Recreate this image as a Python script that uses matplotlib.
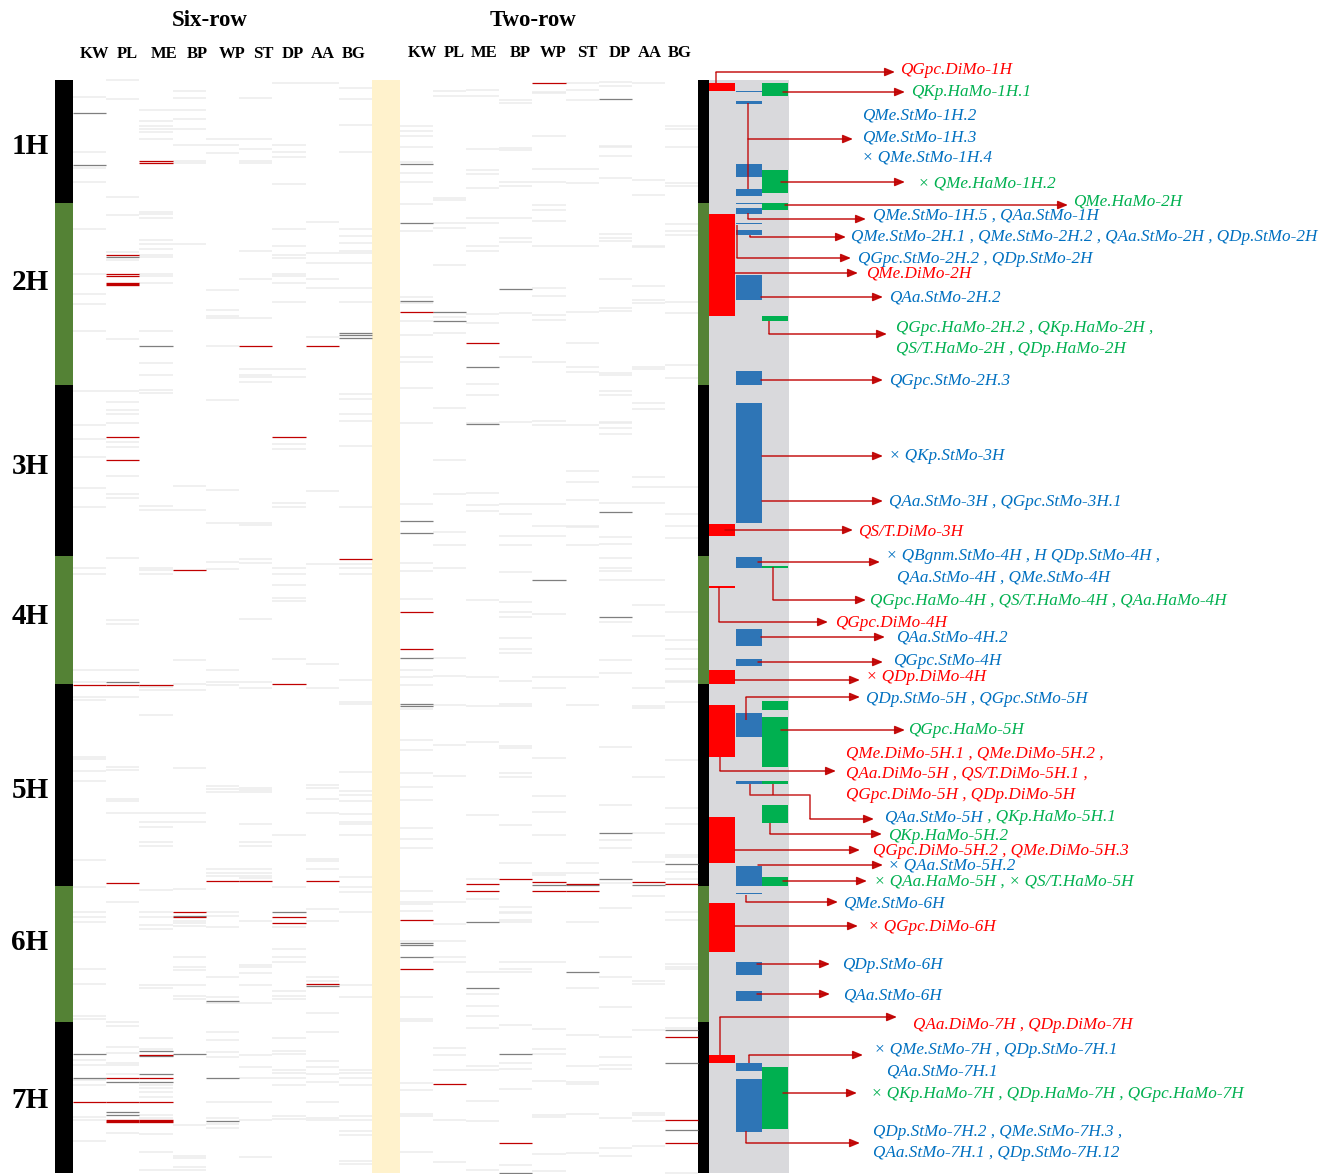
import matplotlib
matplotlib.use("Agg")
import matplotlib.pyplot as plt
from matplotlib.patches import Rectangle

# ---------------- data ----------------
traits = ["KW", "PL", "ME", "BP", "WP", "ST", "DP", "AA", "BG"]
chromosomes = ["1H", "2H", "3H", "4H", "5H", "6H", "7H"]
chrom_start = [0, 123, 305, 476, 604, 806, 942]
chrom_end = [123, 305, 476, 604, 806, 942, 1093]
chrom_color = ["#000000", "#548235", "#000000", "#548235", "#000000", "#548235", "#000000"]

# Six-row association marks (genome position)
six_red = {
    "KW": [605, 1022], "PL": [175, 194, 196, 357, 380, 605, 803, 998, 1022],
    "ME": [81, 83, 605, 975, 998, 1022], "BP": [490, 832, 837], "WP": [801],
    "ST": [266, 801], "DP": [357, 604, 837, 843], "AA": [266, 801, 904], "BG": [479],
}
six_red_thick = {"PL": [203.5, 1040.7], "ME": [1040.7]}
six_grey = {
    "KW": [33, 85, 974, 998], "PL": [177, 602, 1002, 1032, 1035],
    "ME": [266, 971, 976, 994, 1002], "BP": [835.7, 974], "WP": [921, 998, 1040.7],
    "ST": [], "DP": [832], "AA": [906], "BG": [253, 255, 258],
}
six_faint = {
    "KW": [17, 72, 88, 102, 149, 194, 214, 224, 251, 311, 345, 359, 377, 408, 427, 488, 494, 590, 602,
           617, 620, 677, 679, 691, 701, 780, 807, 832, 837, 842, 889, 904, 936, 939, 980, 985, 1000,
           1005, 1037, 1040, 1061],
    "PL": [0, 19, 117, 135, 172, 180, 259, 311, 322, 330, 334, 343, 362, 367, 396, 414, 418, 478, 540,
           544, 590, 617, 687, 690, 719, 721, 733, 822, 942, 946, 967, 973, 983, 985, 994, 1053],
    "ME": [30, 41, 46, 49, 52, 59, 132, 134, 138, 160, 164, 169, 175, 177, 194, 196, 203, 251, 283, 295,
           310, 313, 426, 430, 488, 490, 494, 607, 610, 635, 733, 742, 747, 762, 766, 810, 832, 837, 845,
           849, 905, 908, 958, 969, 1005, 1008, 1012, 1017, 1035, 1038, 1054, 1072, 1090],
    "BP": [11, 18, 30, 39, 49, 65, 81, 83, 164, 406, 430, 580, 604, 610, 688, 733, 742, 809, 841, 843,
           846, 877, 887, 890, 905, 916, 919, 1045, 1076, 1078, 1087, 1090],
    "WP": [59, 65, 73, 210, 230, 236, 238, 266, 320, 410, 443, 482, 489, 590, 602, 605, 706, 709, 712,
           789, 793, 796, 832, 836, 847, 897, 917, 923, 952, 960, 972, 977, 1022, 1038, 1044, 1048],
    "ST": [18, 59, 69, 81, 83, 171, 199, 238, 289, 295, 297, 302, 443, 445, 479, 483, 539, 602, 608, 708,
           710, 712, 744, 762, 766, 789, 793, 796, 798, 841, 885, 887, 893, 905, 923, 975, 987, 998, 1022,
           1040, 1077],
    "DP": [3, 65, 72, 77, 104, 149, 166, 175, 178, 194, 196, 203, 222, 289, 297, 364, 369, 423, 427, 488,
           494, 505, 518, 521, 579, 755, 807, 847, 869, 877, 882, 911, 916, 919, 958, 971, 974, 990, 993,
           998, 1005, 1036, 1039],
    "AA": [3, 142, 173, 183, 199, 208, 257, 411, 484, 584, 608, 705, 708, 719, 733, 779, 781, 789, 829,
           841, 897, 901, 933, 952, 981, 987, 994, 1002, 1022, 1038, 1040],
    "BG": [8, 19, 45, 72, 149, 156, 163, 171, 173, 183, 208, 222, 314, 319, 334, 341, 366, 427, 484, 488,
           494, 600, 622, 624, 692, 711, 715, 721, 734, 742, 744, 755, 797, 807, 812, 832, 905, 917, 990,
           993, 998, 1005, 1036, 1040, 1051, 1055, 1081, 1084],
}

# Two-row association marks
two_red = {
    "KW": [232, 532, 569, 840, 889], "PL": [1004], "ME": [263, 804, 811], "BP": [799, 1063],
    "WP": [3, 802, 811], "ST": [804, 811], "DP": [], "AA": [802], "BG": [804, 957, 1040, 1063],
}
two_grey = {
    "KW": [84, 143, 221, 441, 453, 578, 624, 626, 863, 865, 877], "PL": [232, 241],
    "ME": [287, 344, 842, 908], "BP": [209, 974, 1093], "WP": [500, 805], "ST": [805, 892],
    "DP": [19, 432, 537, 753, 799], "AA": [805], "BG": [784, 950, 983, 1050],
}
two_faint = {
    "KW": [46, 51, 56, 67, 82, 93, 102, 124, 151, 217, 223, 241, 255, 277, 282, 308, 343, 424, 483, 491,
           519, 590, 597, 605, 629, 660, 670, 693, 707, 720, 748, 759, 768, 811, 822, 824, 831, 861, 917,
           939, 941, 1003, 1010, 1034, 1036, 1072],
    "PL": [11, 16, 118, 120, 143, 148, 185, 237, 253, 328, 380, 414, 452, 465, 488, 578, 596, 625, 665,
           696, 822, 844, 861, 877, 882, 968, 975, 990, 1040, 1082],
    "ME": [10, 16, 69, 90, 94, 108, 138, 143, 166, 171, 234, 243, 304, 315, 343, 413, 425, 431, 520, 597,
           626, 662, 735, 799, 819, 892, 914, 926, 936, 948, 986, 990, 1021, 1041, 1090],
    "BP": [20, 23, 68, 70, 102, 106, 138, 158, 162, 233, 277, 342, 424, 434, 456, 465, 492, 522, 532, 537,
           558, 569, 573, 601, 624, 626, 666, 668, 693, 697, 745, 783, 827, 832, 833, 840, 842, 882, 889,
           892, 945, 983, 989, 1009, 1085],
    "WP": [12, 13, 56, 89, 102, 125, 130, 141, 166, 208, 216, 235, 240, 282, 341, 345, 424, 446, 456, 534,
           597, 608, 678, 716, 732, 755, 793, 795, 882, 949, 969, 974, 1001, 1035, 1037, 1074, 1091],
    "ST": [3, 10, 20, 89, 103, 166, 232, 263, 287, 292, 345, 391, 402, 420, 446, 447, 465, 597, 625, 783,
           793, 842, 908, 955, 986, 1002, 1004, 1034, 1073],
    "DP": [2, 6, 66, 67, 76, 98, 154, 158, 161, 199, 228, 231, 293, 295, 311, 315, 342, 343, 348, 354, 423,
           457, 464, 478, 488, 491, 500, 542, 580, 593, 667, 725, 760, 768, 803, 828, 877, 897, 927, 957,
           977, 985, 989, 1038, 1068, 1076],
    "AA": [3, 100, 115, 166, 167, 206, 220, 223, 287, 289, 323, 329, 397, 407, 423, 500, 525, 556, 608,
           626, 628, 697, 753, 782, 816, 901, 904, 950, 1033, 1035, 1041, 1066],
    "BG": [46, 49, 67, 103, 106, 144, 151, 155, 222, 233, 285, 298, 407, 434, 446, 458, 532, 560, 569,
           579, 589, 601, 602, 622, 680, 728, 744, 775, 777, 792, 799, 804, 832, 840, 884, 887, 889, 938,
           948, 1093],
}

# QTL intervals (start, end) by disease type
qtl_dimo = [(3, 10.7), (134, 236), (444, 455.7), (506, 508.3), (590, 604), (625, 676.7), (737, 782.7),
            (823, 872.3), (975, 982.7)]
qtl_stmo = [(11, 11.8), (21, 23.7), (84, 96.7), (109, 116), (122.6, 123.4), (128, 133.7), (143.2, 144),
            (150, 155.3), (195, 220), (291, 305), (323, 443.3), (477.3, 488.3), (549, 566.3), (579, 586.3),
            (633, 656.7), (701, 703.7), (785.7, 806), (813, 814), (882.3, 895), (911, 921), (983.3, 991),
            (999, 1051.7)]
qtl_hamo = [(3, 15.7), (90, 113), (122.7, 130.3), (236, 241.3), (485.7, 487.7), (620.7, 630), (637, 687),
            (701, 703.7), (725, 743), (797, 806), (986.7, 1048.7)]

# QTL labels: each entry = lines, each line = list of (text, colour key)
qtl_labels = [
    [[("QGpc.DiMo-1H", "r")]],
    [[("QKp.HaMo-1H.1", "g")]],
    [[("QMe.StMo-1H.2", "b")], [("QMe.StMo-1H.3", "b")], [("× QMe.StMo-1H.4", "b")]],
    [[("× QMe.HaMo-1H.2", "g")]],
    [[("QMe.HaMo-2H", "g")]],
    [[("QMe.StMo-1H.5 , QAa.StMo-1H", "b")]],
    [[("QMe.StMo-2H.1 , QMe.StMo-2H.2 , QAa.StMo-2H , QDp.StMo-2H", "b")]],
    [[("QGpc.StMo-2H.2 , QDp.StMo-2H", "b")]],
    [[("QMe.DiMo-2H", "r")]],
    [[("QAa.StMo-2H.2", "b")]],
    [[("QGpc.HaMo-2H.2 , QKp.HaMo-2H ,", "g")], [("QS/T.HaMo-2H , QDp.HaMo-2H", "g")]],
    [[("QGpc.StMo-2H.3", "b")]],
    [[("× QKp.StMo-3H", "b")]],
    [[("QAa.StMo-3H , QGpc.StMo-3H.1", "b")]],
    [[("QS/T.DiMo-3H", "r")]],
    [[("× QBgnm.StMo-4H , H QDp.StMo-4H ,", "b")], [("QAa.StMo-4H , QMe.StMo-4H", "b")]],
    [[("QGpc.HaMo-4H , QS/T.HaMo-4H , QAa.HaMo-4H", "g")]],
    [[("QGpc.DiMo-4H", "r")]],
    [[("QAa.StMo-4H.2", "b")]],
    [[("QGpc.StMo-4H", "b")]],
    [[("× QDp.DiMo-4H", "r")]],
    [[("QDp.StMo-5H , QGpc.StMo-5H", "b")]],
    [[("QGpc.HaMo-5H", "g")]],
    [[("QMe.DiMo-5H.1 , QMe.DiMo-5H.2 ,", "r")], [("QAa.DiMo-5H , QS/T.DiMo-5H.1 ,", "r")],
     [("QGpc.DiMo-5H , QDp.DiMo-5H", "r")]],
    [[("QAa.StMo-5H", "b"), (" , QKp.HaMo-5H.1", "g")]],
    [[("QKp.HaMo-5H.2", "g")]],
    [[("QGpc.DiMo-5H.2 , QMe.DiMo-5H.3", "r")]],
    [[("× QAa.StMo-5H.2", "b")]],
    [[("× QAa.HaMo-5H , × QS/T.HaMo-5H", "g")]],
    [[("QMe.StMo-6H", "b")]],
    [[("× QGpc.DiMo-6H", "r")]],
    [[("QDp.StMo-6H", "b")]],
    [[("QAa.StMo-6H", "b")]],
    [[("QAa.DiMo-7H , QDp.DiMo-7H", "r")]],
    [[("× QMe.StMo-7H , QDp.StMo-7H.1", "b")], [("QAa.StMo-7H.1", "b")]],
    [[("× QKp.HaMo-7H , QDp.HaMo-7H , QGpc.HaMo-7H", "g")]],
    [[("QDp.StMo-7H.2 , QMe.StMo-7H.3 ,", "b")], [("QAa.StMo-7H.1 , QDp.StMo-7H.12", "b")]],
]

# ---------------- layout (pixel-like x units; y = genome position) ----------------
chrom_label_y = [67, 203, 386, 537, 711, 863, 1021]
label_layout = [
    dict(path=[(716, 3), (716, -8), (895, -8)], text=[(900, -10)]),
    dict(path=[(783, 12), (905, 12)], text=[(911, 12)]),
    dict(path=[(748, 59), (853, 59)], text=[(862, 35), (862, 57), (862, 78)], extra=[[(748, 23), (748, 109)]]),
    dict(path=[(781, 102), (905, 102)], text=[(918, 103)]),
    dict(path=[(785, 125), (1068, 125)], text=[(1073, 122)]),
    dict(path=[(748, 133), (748, 139), (866, 139)], text=[(873, 136)]),
    dict(path=[(750, 155), (750, 157), (846, 157)], text=[(851, 157)]),
    dict(path=[(737, 145), (737, 178), (851, 178)], text=[(858, 179)]),
    dict(path=[(735, 193), (858, 193)], text=[(866, 194)]),
    dict(path=[(761, 217), (883, 217)], text=[(889, 217)]),
    dict(path=[(769, 241), (769, 254), (887, 254)], text=[(896, 248), (896, 269)]),
    dict(path=[(761, 300), (883, 300)], text=[(889, 301)]),
    dict(path=[(762, 376), (883, 376)], text=[(889, 376)]),
    dict(path=[(762, 421), (883, 421)], text=[(889, 422)]),
    dict(path=[(725, 450), (853, 450)], text=[(858, 452)]),
    dict(path=[(758, 482), (880, 482)], text=[(886, 476), (897, 497)]),
    dict(path=[(773, 487), (773, 520), (866, 520)], text=[(870, 521)]),
    dict(path=[(719, 507), (719, 542), (828, 542)], text=[(835, 543)]),
    dict(path=[(761, 557), (885, 557)], text=[(896, 558)]),
    dict(path=[(758, 582), (883, 582)], text=[(893, 581)]),
    dict(path=[(735, 600), (860, 600)], text=[(866, 597)]),
    dict(path=[(746, 640), (746, 617), (860, 617)], text=[(866, 619)]),
    dict(path=[(781, 650), (905, 650)], text=[(908, 650)]),
    dict(path=[(720, 677), (720, 691), (836, 691)], text=[(846, 673), (846, 694), (846, 715)]),
    dict(path=[(750, 704), (750, 715), (810, 715), (810, 739), (874, 739)], text=[(884, 737)],
         extra=[[(773, 704), (773, 715)]]),
    dict(path=[(770, 743), (770, 754), (882, 754)], text=[(888, 756)]),
    dict(path=[(735, 770), (860, 770)], text=[(873, 771)]),
    dict(path=[(758, 785), (883, 785)], text=[(888, 786)]),
    dict(path=[(783, 801), (867, 801)], text=[(874, 801)]),
    dict(path=[(746, 815), (746, 822), (838, 822)], text=[(843, 824)]),
    dict(path=[(735, 846), (858, 846)], text=[(868, 847)]),
    dict(path=[(757, 884), (830, 884)], text=[(842, 885)]),
    dict(path=[(757, 914), (830, 914)], text=[(843, 915)]),
    dict(path=[(720, 975), (720, 937), (897, 937)], text=[(913, 945)]),
    dict(path=[(749, 983), (749, 975), (863, 975)], text=[(874, 970), (886, 991)]),
    dict(path=[(783, 1013), (857, 1013)], text=[(871, 1014)]),
    dict(path=[(746, 1051), (746, 1063), (860, 1063)], text=[(873, 1052), (873, 1073)]),
]

W, H = 1325, 1174
TOP = 80
SIX_X0, TWO_X0 = 73, 400
SIX_W, TWO_W = (372 - 73) / 9, (698 - 400) / 9
TXT = {"r": "#ff0000", "b": "#0070c0", "g": "#00b050"}
ARROW = "#c00000"
SERIF = "Liberation Serif"
LBL_FS = 12.3

fig = plt.figure(figsize=(W / 100, H / 100), dpi=100)
ax = fig.add_axes([0, 0, 1, 1])
ax.set_xlim(0, W)
ax.set_ylim(H - TOP, -TOP)
ax.axis("off")

total = chrom_end[-1]

# chromosome bars (left & right) and labels
for name, s, e, c, ly in zip(chromosomes, chrom_start, chrom_end, chrom_color, chrom_label_y):
    ax.bar(64, e - s, bottom=s, width=18, color=c, linewidth=0)
    ax.bar(703.5, e - s, bottom=s, width=11, color=c, linewidth=0)
    ax.text(30, ly, name, ha="center", va="center", fontsize=21,
            fontweight="bold", family=SERIF)

# separator and QTL panel backgrounds
ax.add_patch(Rectangle((372, 0), 28, total, color="#fff2cc", lw=0))
ax.add_patch(Rectangle((709, 0), 80, total, color="#d9d9dc", lw=0))


def draw_marks(x0, w, marks, color, lw):
    for i, t in enumerate(traits):
        ys = marks.get(t, [])
        if ys:
            ax.hlines(ys, x0 + i * w, x0 + (i + 1) * w, colors=color, linewidth=lw)


for x0, w, faint, grey, red in [(SIX_X0, SIX_W, six_faint, six_grey, six_red),
                                (TWO_X0, TWO_W, two_faint, two_grey, two_red)]:
    draw_marks(x0, w, faint, "#ececec", 1.1)
    draw_marks(x0, w, grey, "#7f7f7f", 0.9)
    draw_marks(x0, w, red, "#c00000", 0.9)
draw_marks(SIX_X0, SIX_W, six_red_thick, "#c00000", 2.4)

# QTL boxes
for lst, xc, col in [(qtl_dimo, 722, "#ff0000"), (qtl_stmo, 748.5, "#2e75b6"), (qtl_hamo, 775, "#00b050")]:
    for s, e in lst:
        ax.bar(xc, max(e - s, 1.0), bottom=s, width=26, color=col, linewidth=0)

# headers
ax.text(210, -59, "Six-row", ha="center", va="center", fontsize=16.5, fontweight="bold", family=SERIF)
ax.text(533, -60, "Two-row", ha="center", va="center", fontsize=16.5, fontweight="bold", family=SERIF)
six_hdr_x = [95, 127, 164, 197, 232, 263, 293, 323, 354]
two_hdr_x = [423, 454, 484, 520, 553, 587, 620, 650, 680]
for t, xs, xt in zip(traits, six_hdr_x, two_hdr_x):
    ax.text(xs, -26, t, ha="center", va="center", fontsize=12, fontweight="bold", family=SERIF)
    ax.text(xt, -27, t, ha="center", va="center", fontsize=12, fontweight="bold", family=SERIF)

# labels and arrows
for lines, lay in zip(qtl_labels, label_layout):
    pts = lay["path"]
    for seg in lay.get("extra", []):
        ax.plot([p[0] for p in seg], [p[1] for p in seg], color=ARROW, lw=1.1, alpha=0.85,
                solid_capstyle="butt")
    if len(pts) > 2:
        ax.plot([p[0] for p in pts[:-1]], [p[1] for p in pts[:-1]], color=ARROW, lw=1.1, alpha=0.85,
                solid_capstyle="butt")
    ax.annotate("", xy=pts[-1], xytext=pts[-2],
                arrowprops=dict(arrowstyle="-|>,head_length=0.6,head_width=0.25", color=ARROW, lw=1.1,
                                alpha=0.9, shrinkA=0, shrinkB=0))
    for line, (tx, ty) in zip(lines, lay["text"]):
        prev = None
        for txt, ck in line:
            if prev is None:
                prev = ax.text(tx, ty, txt, ha="left", va="center", fontsize=LBL_FS, style="italic",
                               family=SERIF, color=TXT[ck])
            else:
                prev = ax.annotate(txt, xy=(1, 0.5), xycoords=prev, ha="left", va="center",
                                   fontsize=LBL_FS, style="italic", family=SERIF, color=TXT[ck])

fig.savefig("out.png", dpi=100)
